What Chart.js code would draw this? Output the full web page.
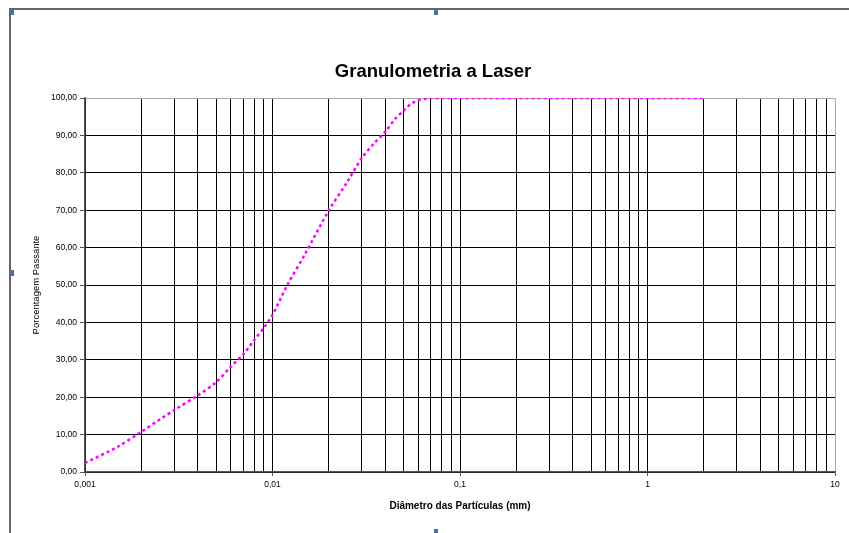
<!DOCTYPE html>
<html>
<head>
<meta charset="utf-8">
<script src="https://cdn.jsdelivr.net/npm/chart.js@4.4.1/dist/chart.umd.min.js"></script>
<style>
  html, body { margin: 0; padding: 0; background: #fff; }
  #wrap { position: relative; width: 849px; height: 533px; overflow: hidden; }
  canvas { position: absolute; left: 0; top: 0; }
  .frame { position: absolute; left: 9px; top: 8px; width: 860px; height: 540px;
           border-top: 2px solid #666; border-left: 2px solid #666; pointer-events: none; }
  .h { position: absolute; width: 4px; height: 6px; background: #4f6f95; pointer-events: none; }
</style>
</head>
<body>
<div id="wrap">
  <canvas id="c" width="849" height="533"></canvas>
  <div class="frame"></div>
  <div class="h" style="left:10px;top:9px"></div>
  <div class="h" style="left:434px;top:9px"></div>
  <div class="h" style="left:10px;top:270px"></div>
  <div class="h" style="left:434px;top:529px"></div>
</div>
<script>
// ---- data ----
const diameters = [0.001, 0.0015, 0.002, 0.003, 0.004, 0.005, 0.006, 0.007, 0.008, 0.009,
                   0.01, 0.012, 0.015, 0.02, 0.025, 0.03, 0.035, 0.04, 0.045, 0.05,
                   0.055, 0.06, 0.065, 0.07, 0.08, 0.1, 0.2, 0.5, 1, 2];
const passing = [2.4, 6.8, 10.8, 16.6, 20.5, 24.0, 28.2, 31.5, 35.3, 38.6,
                 42.0, 50.0, 58.5, 70.0, 77.5, 84.0, 88.0, 91.0, 94.4, 96.6,
                 98.5, 99.4, 99.8, 100, 100, 100, 100, 100, 100, 100];
const xDecades = [0.001, 0.01, 0.1, 1, 10];
const xTickLabels = ['0,001', '0,01', '0,1', '1', '10'];
const yTicks = [0, 10, 20, 30, 40, 50, 60, 70, 80, 90, 100];
const titleText = 'Granulometria a Laser';
const xTitle = 'Diâmetro das Partículas (mm)';
const yTitle = 'Porcentagem Passante';

// all log ticks (1..9 x each decade)
const xTickValues = [];
for (let i = 0; i < xDecades.length - 1; i++) {
  for (let m = 1; m <= 9; m++) xTickValues.push(parseFloat((m * xDecades[i]).toPrecision(6)));
}
xTickValues.push(xDecades[xDecades.length - 1]);

function isDecade(v) {
  const l = Math.log10(v);
  return Math.abs(l - Math.round(l)) < 1e-9;
}
function decadeLabel(v) {
  for (let i = 0; i < xDecades.length; i++) {
    if (Math.abs(v - xDecades[i]) / xDecades[i] < 1e-6) return xTickLabels[i];
  }
  return '';
}

// title drawn at the reference's position
const titlePlugin = {
  id: 'refTitle',
  afterDraw(chart) {
    const ctx = chart.ctx;
    ctx.save();
    ctx.fillStyle = '#000';
    ctx.font = 'bold 18.5px "Liberation Sans", Arial, sans-serif';
    ctx.textAlign = 'center';
    ctx.textBaseline = 'middle';
    ctx.fillText(titleText, 433, 72);
    ctx.restore();
  }
};

new Chart(document.getElementById('c'), {
  type: 'line',
  data: {
    datasets: [{
      data: diameters.map((d, i) => ({ x: d, y: passing[i] })),
      borderColor: '#ff00ff',
      borderWidth: 2.5,
      borderDash: [3, 3],
      pointRadius: 0,
      fill: false,
      tension: 0.3
    }]
  },
  plugins: [titlePlugin],
  options: {
    responsive: false,
    animation: false,
    devicePixelRatio: 1,
    layout: { padding: { left: 0, right: 14, top: 98, bottom: 0 } },
    plugins: {
      legend: { display: false },
      tooltip: { enabled: false },
      title: { display: false }
    },
    scales: {
      x: {
        type: 'logarithmic',
        min: 0.001,
        max: 10,
        afterBuildTicks: (scale) => { scale.ticks = xTickValues.map(v => ({ value: v })); },
        afterFit: (scale) => { scale.height = 61; },
        ticks: {
          autoSkip: false,
          maxRotation: 0,
          padding: 4,
          color: '#000',
          font: { family: 'Liberation Sans, Arial, sans-serif', size: 8.5 },
          callback: (v) => decadeLabel(v)
        },
        grid: {
          color: (ctx) => (ctx.tick && Math.abs(ctx.tick.value - 10) < 1e-9) ? '#aaa' : '#000',
          lineWidth: 1,
          tickLength: 4,
          tickColor: (ctx) => (ctx.tick && isDecade(ctx.tick.value)) ? '#555' : 'rgba(0,0,0,0)'
        },
        border: { display: true, color: '#555', width: 1.5 },
        title: {
          display: true,
          text: xTitle,
          color: '#000',
          font: { family: 'Liberation Sans, Arial, sans-serif', size: 10, weight: 'bold' },
          padding: { top: 0, bottom: 21 }
        }
      },
      y: {
        min: 0,
        max: 100,
        afterBuildTicks: (scale) => { scale.ticks = yTicks.map(v => ({ value: v })); },
        afterFit: (scale) => { scale.width = 85; },
        ticks: {
          padding: 3,
          color: '#000',
          font: { family: 'Liberation Sans, Arial, sans-serif', size: 8.5 },
          callback: (v) => v.toFixed(2).replace('.', ',')
        },
        grid: {
          color: (ctx) => (ctx.tick && ctx.tick.value === 100) ? '#aaa' : '#000',
          lineWidth: 1,
          tickLength: 5,
          tickColor: '#555'
        },
        border: { display: true, color: '#555', width: 1.5 },
        title: {
          display: true,
          text: yTitle,
          color: '#000',
          font: { family: 'Liberation Sans, Arial, sans-serif', size: 9.5 },
          padding: { top: 31, bottom: 0 }
        }
      }
    }
  }
});
</script>
</body>
</html>
